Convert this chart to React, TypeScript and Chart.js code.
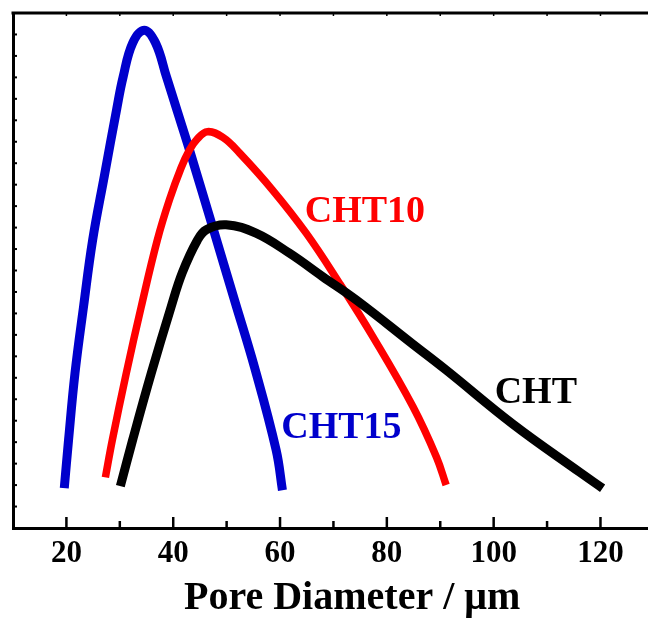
import React, { useEffect, useRef } from "react";
import { Chart, registerables } from "chart.js";

Chart.register(...registerables);

// ---- data ----
const CHT15_X = [19.6, 20.4, 21.6, 23.2, 24.9, 27.1, 29.4, 30.6, 32.4, 34.6, 36.7, 38.73, 40.79, 43.03, 47.43, 51.46, 55.21, 59.27, 60.45];
const CHT15_Y = [1.86, 4.1, 7.2, 10.3, 13.4, 16.4, 19.5, 21.0, 22.6, 23.2, 22.6, 21.03, 19.4, 17.63, 13.99, 10.63, 7.5, 3.63, 1.76];

const CHT10_X = [27.3, 28.6, 31.2, 34.0, 37.0, 39.3, 41.5, 43.0, 44.4, 46.4, 49.3, 52.4, 58.6, 64.9, 71.1, 77.4, 84.9, 89.3, 91.1];
const CHT10_Y = [2.36, 4.1, 7.2, 10.3, 13.4, 15.3, 16.8, 17.6, 18.1, 18.47, 18.2, 17.48, 15.75, 13.74, 11.42, 8.91, 5.65, 3.3, 2.0];

const CHT_X = [30.1, 32.4, 35.9, 39.6, 41.7, 44.5, 46.2, 49.9, 55.5, 61.8, 68.0, 74.25, 84.85, 91.1, 103.6, 116.1, 120.4];
const CHT_Y = [1.95, 4.1, 7.22, 10.3, 11.9, 13.4, 13.9, 14.13, 13.74, 12.8, 11.71, 10.63, 8.57, 7.36, 4.84, 2.6, 1.85];

const SERIES_NAMES = ["CHT", "CHT10", "CHT15"];
const SERIES_COLORS = ["#000000", "#FF0000", "#0000CC"];

const X_MIN = 10;
const X_MAX = 128.9;
const Y_MIN = 0;
const Y_MAX = 24;
const X_TICKS = [20, 40, 60, 80, 100, 120];
const X_MINOR_TICKS = [30, 50, 70, 90, 110];
const X_TOP_TICKS = [20, 30, 40, 50, 60, 70, 80, 90, 100, 110, 120];
const Y_MINOR_TICKS = [1, 2, 3, 4, 5, 6, 7, 8, 9, 10, 11, 12, 13, 14, 15, 16, 17, 18, 19, 20, 21, 22, 23];
const X_TITLE = "Pore Diameter / μm";
const X_TITLE_CENTER = 73.5; // data x under the title's centre

// label anchor positions (data coordinates)
const LABEL_POS = [
  { x: 107.9, y: 6.3 },
  { x: 75.9, y: 14.7 },
  { x: 71.5, y: 4.66 },
];

const FONT = "'Times New Roman', 'Liberation Serif', serif";

const toPoints = (xs: number[], ys: number[]) => xs.map((x, i) => ({ x, y: ys[i] }));

const decor = {
  id: "decor",
  afterDatasetsDraw(chart: any) {
    const { ctx, scales } = chart;
    const xs = scales.x;
    const ys = scales.y;
    ctx.save();
    ctx.font = `bold 38px ${FONT}`;
    ctx.textAlign = "center";
    ctx.textBaseline = "middle";
    SERIES_NAMES.forEach((name, i) => {
      ctx.fillStyle = SERIES_COLORS[i];
      ctx.fillText(name, xs.getPixelForValue(LABEL_POS[i].x), ys.getPixelForValue(LABEL_POS[i].y));
    });
    ctx.restore();
  },
  afterDraw(chart: any) {
    const { ctx, chartArea: a, scales } = chart;
    const xs = scales.x;
    const ys = scales.y;
    ctx.save();
    // axis title
    ctx.fillStyle = "#000";
    ctx.font = `bold 40px ${FONT}`;
    ctx.textAlign = "center";
    ctx.textBaseline = "alphabetic";
    ctx.fillText(X_TITLE, xs.getPixelForValue(X_TITLE_CENTER), a.bottom + 80.5);

    ctx.strokeStyle = "#000";
    ctx.lineCap = "butt";
    // top border
    ctx.lineWidth = 3;
    ctx.beginPath();
    ctx.moveTo(a.left - 1.5, a.top);
    ctx.lineTo(a.right, a.top);
    ctx.stroke();
    // bottom major ticks
    ctx.lineWidth = 2.5;
    X_TICKS.forEach((v) => {
      const px = xs.getPixelForValue(v);
      ctx.beginPath();
      ctx.moveTo(px, a.bottom);
      ctx.lineTo(px, a.bottom - 11);
      ctx.stroke();
    });
    X_MINOR_TICKS.forEach((v) => {
      const px = xs.getPixelForValue(v);
      ctx.beginPath();
      ctx.moveTo(px, a.bottom);
      ctx.lineTo(px, a.bottom - 7);
      ctx.stroke();
    });
    // top small ticks
    ctx.lineWidth = 1.5;
    X_TOP_TICKS.forEach((v) => {
      const px = xs.getPixelForValue(v);
      ctx.beginPath();
      ctx.moveTo(px, a.top);
      ctx.lineTo(px, a.top + 3);
      ctx.stroke();
    });
    // left small ticks
    ctx.lineWidth = 2;
    Y_MINOR_TICKS.forEach((v) => {
      const py = ys.getPixelForValue(v);
      ctx.beginPath();
      ctx.moveTo(a.left, py);
      ctx.lineTo(a.left + 4, py);
      ctx.stroke();
    });
    ctx.restore();
  },
};

export default function App() {
  const ref = useRef<HTMLCanvasElement | null>(null);

  useEffect(() => {
    document.body.style.margin = "0";
    const canvas = ref.current;
    if (!canvas) return;
    const series = [
      { xs: CHT_X, ys: CHT_Y, w: 9 },
      { xs: CHT10_X, ys: CHT10_Y, w: 7.5 },
      { xs: CHT15_X, ys: CHT15_Y, w: 9 },
    ];
    const chart = new Chart(canvas, {
      type: "line",
      data: {
        datasets: series.map((s, i) => ({
          label: SERIES_NAMES[i],
          data: toPoints(s.xs, s.ys),
          borderColor: SERIES_COLORS[i],
          backgroundColor: SERIES_COLORS[i],
          borderWidth: s.w,
          pointRadius: 0,
          fill: false,
          tension: 0.4,
          borderCapStyle: "butt",
          borderJoinStyle: "round",
        })),
      },
      options: {
        animation: false,
        responsive: false,
        events: [],
        layout: { padding: { left: 13, top: 13, right: 0, bottom: 0 } },
        plugins: {
          legend: { display: false },
          tooltip: { enabled: false },
        },
        scales: {
          x: {
            type: "linear",
            min: X_MIN,
            max: X_MAX,
            grid: { display: false, drawTicks: false },
            border: { display: true, width: 3, color: "#000" },
            ticks: {
              color: "#000",
              padding: 7,
              autoSkip: false,
              maxRotation: 0,
              font: { family: FONT, size: 31, weight: "bold" },
              callback: (v: any) => String(v),
            },
            afterBuildTicks: (s: any) => {
              s.ticks = X_TICKS.map((v) => ({ value: v }));
            },
            afterFit: (s: any) => {
              s.height = 90;
            },
            title: { display: false },
          },
          y: {
            type: "linear",
            min: Y_MIN,
            max: Y_MAX,
            grid: { display: false, drawTicks: false },
            border: { display: true, width: 3, color: "#000" },
            ticks: { display: false },
            afterFit: (s: any) => {
              s.width = 0;
            },
          },
        },
      },
      plugins: [decor],
    } as any);
    return () => chart.destroy();
  }, []);

  return (
    <div style={{ width: 648, height: 618, background: "#fff" }}>
      <canvas ref={ref} width={648} height={618} style={{ display: "block" }} />
    </div>
  );
}
